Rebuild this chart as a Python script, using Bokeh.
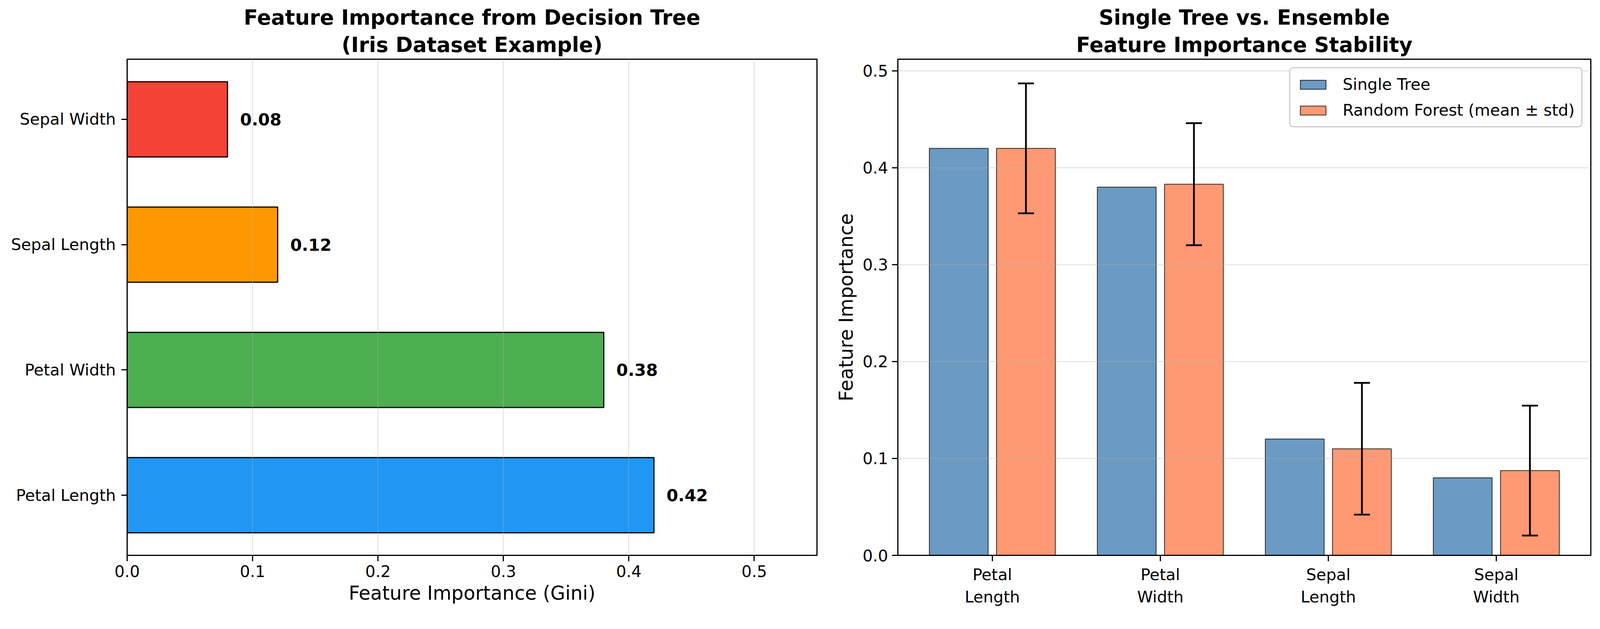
from bokeh.plotting import figure
from bokeh.models import (Range1d, FixedTicker, PrintfTickFormatter, ColumnDataSource,
                          Whisker, TeeHead, Title)
from bokeh.layouts import row
from bokeh.core.properties import value
from bokeh.embed import file_html
from bokeh.resources import INLINE

# ---------------- data ----------------
features_left = ["Petal Length", "Petal Width", "Sepal Length", "Sepal Width"]
gini_importance = [0.42, 0.38, 0.12, 0.08]
bar_colors = ["#2196F3", "#4CAF50", "#FF9800", "#F44336"]
value_labels = ["0.42", "0.38", "0.12", "0.08"]
x_ticks_left = [0.0, 0.1, 0.2, 0.3, 0.4, 0.5]

features_right = ["Petal\nLength", "Petal\nWidth", "Sepal\nLength", "Sepal\nWidth"]
single_tree = [0.42, 0.38, 0.12, 0.08]
rf_mean = [0.42, 0.383, 0.11, 0.0875]
rf_std = [0.067, 0.063, 0.068, 0.067]
y_ticks_right = [0.0, 0.1, 0.2, 0.3, 0.4, 0.5]

title_left = ["Feature Importance from Decision Tree", "(Iris Dataset Example)"]
title_right = ["Single Tree vs. Ensemble", "Feature Importance Stability"]

FONT = "DejaVu Sans"


def style_title(t, standoff):
    t.text_font = FONT
    t.text_font_size = "53px"
    t.text_font_style = "bold"
    t.text_color = "black"
    t.align = "center"
    t.standoff = standoff


def style_axes(p, title_lines):
    for ax in (p.xaxis, p.yaxis):
        ax.axis_line_width = 3
        ax.axis_line_color = "black"
        ax.major_tick_line_width = 3
        ax.major_tick_line_color = "black"
        ax.major_tick_out = 15
        ax.major_tick_in = 0
        ax.minor_tick_line_color = None
        ax.major_label_text_font = FONT
        ax.major_label_text_font_size = "41px"
        ax.major_label_text_color = "black"
        ax.axis_label_text_font = FONT
        ax.axis_label_text_font_size = "49px"
        ax.axis_label_text_font_style = "normal"
        ax.axis_label_text_color = "black"
        ax.major_label_standoff = 10
        ax.axis_label_standoff = 10
    p.outline_line_color = "black"
    p.outline_line_width = 3
    p.outline_line_alpha = 1
    p.title.text = title_lines[0]
    style_title(p.title, 0)
    t2 = Title(text=title_lines[1])
    style_title(t2, 14)
    p.add_layout(t2, "above")
    p.background_fill_color = "white"
    p.border_fill_color = "white"


# ---------------- left panel ----------------
ypos = list(range(len(features_left)))
src1 = ColumnDataSource(dict(y=ypos, v=gini_importance, c=bar_colors,
                             lx=[v + 0.01 for v in gini_importance], lab=value_labels))

p1 = figure(frame_width=1766, frame_height=1270,
            min_border_left=325, min_border_right=29,
            min_border_top=151, min_border_bottom=146,
            x_range=Range1d(0, 0.55), y_range=Range1d(-0.48, 3.48),
            output_backend="svg", toolbar_location=None)
style_axes(p1, title_left)

p1.hbar(y="y", left=0, right="v", height=0.6, fill_color="c", line_color="black",
        line_width=3, source=src1)
p1.text(x="lx", y="y", text="lab", source=src1, text_baseline="middle", text_align="left",
        text_font=value(FONT), text_font_size="43px", text_font_style="bold", text_color="black")

p1.xaxis.ticker = FixedTicker(ticks=x_ticks_left)
p1.xaxis.formatter = PrintfTickFormatter(format="%.1f")
p1.xaxis.axis_label = "Feature Importance (Gini)"
p1.yaxis.ticker = FixedTicker(ticks=ypos)
p1.yaxis.major_label_overrides = {i: f for i, f in zip(ypos, features_left)}
p1.yaxis.major_label_standoff = 14
p1.ygrid.visible = False
p1.xgrid.ticker = FixedTicker(ticks=x_ticks_left)
p1.xgrid.grid_line_color = "#b0b0b0"
p1.xgrid.grid_line_alpha = 0.3
p1.xgrid.grid_line_width = 3
p1.xgrid.level = "overlay"

# ---------------- right panel ----------------
xpos = list(range(len(features_right)))
src_st = ColumnDataSource(dict(x=[i - 0.2 for i in xpos], top=single_tree))
src_rf = ColumnDataSource(dict(x=[i + 0.2 for i in xpos], top=rf_mean,
                               upper=[m + s for m, s in zip(rf_mean, rf_std)],
                               lower=[m - s for m, s in zip(rf_mean, rf_std)]))

p2 = figure(frame_width=1774, frame_height=1270,
            min_border_left=178, min_border_right=20,
            min_border_top=151, min_border_bottom=146,
            x_range=Range1d(-0.5625, 3.5625), y_range=Range1d(0, 0.512),
            output_backend="svg", toolbar_location=None)
style_axes(p2, title_right)

p2.vbar(x="x", top="top", bottom=0, width=0.35, source=src_st,
        fill_color="steelblue", fill_alpha=0.8, line_color="black", line_alpha=0.8,
        line_width=2, legend_label="Single Tree")
p2.vbar(x="x", top="top", bottom=0, width=0.35, source=src_rf,
        fill_color="coral", fill_alpha=0.8, line_color="black", line_alpha=0.8,
        line_width=2, legend_label="Random Forest (mean \u00b1 std)")

wh = Whisker(source=src_rf, base="x", upper="upper", lower="lower",
             line_color="black", line_width=4.5,
             upper_head=TeeHead(size=41, line_width=4.5, line_color="black"),
             lower_head=TeeHead(size=41, line_width=4.5, line_color="black"),
             level="overlay")
p2.add_layout(wh)

p2.xaxis.ticker = FixedTicker(ticks=xpos)
p2.xaxis.major_label_overrides = {i: f for i, f in zip(xpos, features_right)}
p2.yaxis.ticker = FixedTicker(ticks=y_ticks_right)
p2.yaxis.formatter = PrintfTickFormatter(format="%.1f")
p2.yaxis.axis_label = "Feature Importance"
p2.xgrid.visible = False
p2.ygrid.ticker = FixedTicker(ticks=y_ticks_right)
p2.ygrid.grid_line_color = "#b0b0b0"
p2.ygrid.grid_line_alpha = 0.3
p2.ygrid.grid_line_width = 3
p2.ygrid.level = "overlay"

lg = p2.legend[0]
lg.location = "top_right"
lg.margin = 21
lg.padding = 17
lg.spacing = 18
lg.border_line_color = "#cccccc"
lg.border_line_width = 3
lg.border_line_alpha = 1
lg.border_radius = 10
lg.background_fill_alpha = 0.8
lg.label_text_font = FONT
lg.label_text_font_size = "41px"
lg.label_text_color = "black"
lg.glyph_width = 82
lg.glyph_height = 29
lg.label_standoff = 35
lg.label_height = 43

layout = row(p1, p2)
open("out.html", "w").write(file_html(layout, INLINE))
